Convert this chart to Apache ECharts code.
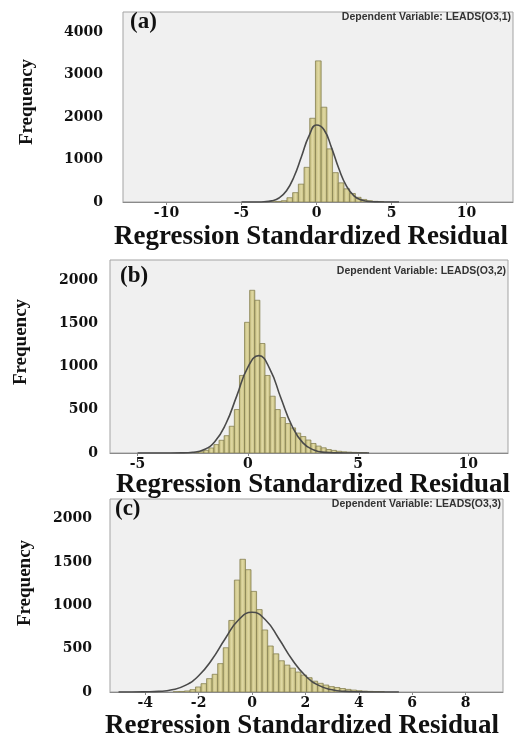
<!DOCTYPE html>
<html>
<head>
<meta charset="utf-8">
<script src="https://cdn.jsdelivr.net/npm/echarts@6/dist/echarts.min.js"></script>
<style>
  html, body { margin: 0; padding: 0; background: #fff; }
  #chart { width: 527px; height: 733px; }
</style>
</head>
<body>
<div id="chart"></div>
<script>
// histogram bins: left edge of the first bin, bin width, counts per bin
const aBinStart = -3.11
const aBinWidth = 0.38
const aFreq = [5, 12, 30, 100, 220, 420, 815, 1970, 3320, 2230, 1250, 690, 450, 310, 200, 110, 60, 30, 15, 8]

const bBinStart = -2.694
const bBinWidth = 0.2315
const bFreq = [4, 8, 15, 31, 58, 97, 147, 200, 309, 502, 896, 1510, 1880, 1765, 1265, 896, 656, 502,
  410, 340, 290, 230, 190, 150, 110, 80, 60, 40, 30, 20, 14, 10, 7, 5, 3]

const cBinStart = -2.95
const cBinWidth = 0.208
const cFreq = [3, 6, 12, 27, 58, 96, 154, 204, 327, 510, 825, 1290, 1530, 1410, 1160, 950, 715, 530,
  440, 360, 310, 275, 230, 195, 165, 125, 100, 80, 62, 52, 40, 30, 22, 15, 10, 7, 5, 3]

// fitted normal curves
const curveX = [-5, -4.5, -4, -3.5, -3, -2.5, -2, -1.5, -1, -0.5, 0, 0.5, 1, 1.5, 2, 2.5, 3, 3.5, 4, 4.5, 5, 5.5]
const aCurve = [0, 0, 1, 6, 27, 95, 265, 595, 1070, 1555, 1810, 1700, 1280, 775, 375, 145, 45, 12, 2, 0, 0, 0]
const bCurve = [0, 0, 0, 0, 1, 8, 37, 130, 335, 660, 990, 1125, 970, 635, 315, 117, 34, 7, 1, 0, 0, 0]
const cCurve = [0, 0, 2, 7, 25, 76, 187, 375, 617, 833, 920, 833, 617, 375, 187, 76, 25, 7, 2, 0, 0, 0]

// tick labels
const aXTicks = [-10, -5, 0, 5, 10]
const bXTicks = [-5, 0, 5, 10]
const cXTicks = [-4, -2, 0, 2, 4, 6, 8]
const aYTicks = [0, 1000, 2000, 3000, 4000]
const bYTicks = [0, 500, 1000, 1500, 2000]
const cYTicks = [0, 500, 1000, 1500, 2000]

const panelLabels = ['(a)', '(b)', '(c)']
const depLabels = ['Dependent Variable: LEADS(O3,1)', 'Dependent Variable: LEADS(O3,2)', 'Dependent Variable: LEADS(O3,3)']
const xTitle = 'Regression Standardized Residual'
const yTitle = 'Frequency'

const panels = [
  {
    start: aBinStart, width: aBinWidth, freq: aFreq, curve: aCurve, xTicks: aXTicks, yTicks: aYTicks,
    grid: { left: 123, top: 12, width: 390, height: 190 }, xMin: -12.9, xMax: 13.1, yMax: 4470, yMargin: 20,
    labelPos: [130, 23], titlePos: [311, 237], freqPos: [27, 102]
  },
  {
    start: bBinStart, width: bBinWidth, freq: bFreq, curve: bCurve, xTicks: bXTicks, yTicks: bYTicks,
    grid: { left: 110, top: 260, width: 398, height: 193 }, xMin: -6.25, xMax: 11.8, yMax: 2230, yMargin: 12,
    labelPos: [120, 277], titlePos: [313, 485], freqPos: [21, 342]
  },
  {
    start: cBinStart, width: cBinWidth, freq: cFreq, curve: cCurve, xTicks: cXTicks, yTicks: cYTicks,
    grid: { left: 110, top: 499, width: 393, height: 193 }, xMin: -5.32, xMax: 9.4, yMax: 2225, yMargin: 18,
    labelPos: [115, 510], titlePos: [302, 726], freqPos: [25, 583]
  }
]

const tickFont = { fontFamily: 'DejaVu Serif', fontWeight: 'bold', fontSize: 14, color: '#111' }

const barFill = new echarts.graphic.LinearGradient(0, 0, 1, 0, [
  { offset: 0, color: '#c0b776' },
  { offset: 0.5, color: '#e0d9a4' },
  { offset: 1, color: '#c0b776' }
])

function renderBar (params, api) {
  const top = api.coord([api.value(0), api.value(2)])
  const bottom = api.coord([api.value(1), 0])
  return {
    type: 'rect',
    shape: { x: top[0], y: top[1], width: bottom[0] - top[0], height: bottom[1] - top[1] },
    style: { fill: barFill, stroke: '#878153', lineWidth: 0.8 }
  }
}

const grid = []
const xAxis = []
const yAxis = []
const series = []
const graphic = []

panels.forEach((p, i) => {
  grid.push(Object.assign({
    show: true, backgroundColor: '#f0f0f0', borderColor: '#a3a3a3', borderWidth: 1
  }, p.grid))

  xAxis.push({
    type: 'value', gridIndex: i, min: p.xMin, max: p.xMax,
    axisLine: { show: true, lineStyle: { color: '#8a8a8a' } },
    axisTick: { show: true, length: 3, customValues: p.xTicks, lineStyle: { color: '#8a8a8a' } },
    axisLabel: Object.assign({ margin: 4, customValues: p.xTicks, formatter: v => String(v) }, tickFont),
    splitLine: { show: false }
  })

  yAxis.push({
    type: 'value', gridIndex: i, min: 0, max: p.yMax,
    axisLine: { show: false },
    axisTick: { show: false },
    axisLabel: Object.assign({ margin: p.yMargin, customValues: p.yTicks, formatter: v => String(v) }, tickFont),
    splitLine: { show: false }
  })

  const bins = p.freq.map((f, k) => [p.start + k * p.width, p.start + (k + 1) * p.width, f])
  series.push({
    type: 'custom', xAxisIndex: i, yAxisIndex: i,
    renderItem: renderBar,
    encode: { x: [0, 1], y: 2 },
    data: bins, clip: true, z: 2
  })

  series.push({
    type: 'line', xAxisIndex: i, yAxisIndex: i,
    data: curveX.map((x, k) => [x, p.curve[k]]),
    smooth: true, showSymbol: false, clip: true, z: 3,
    lineStyle: { color: '#4a4a4a', width: 1.6 }
  })

  graphic.push({
    type: 'text', left: p.labelPos[0], top: p.labelPos[1] - 12,
    style: { text: panelLabels[i], fontFamily: 'Liberation Serif', fontWeight: 'bold', fontSize: 23, fill: '#111' }
  })
  graphic.push({
    type: 'text', x: p.grid.left + p.grid.width - 2, y: p.labelPos[1] - 6,
    style: {
      text: depLabels[i], fontFamily: 'Liberation Sans', fontWeight: 'bold', fontSize: 10.5, fill: '#333',
      align: 'right', verticalAlign: 'middle'
    }
  })
  graphic.push({
    type: 'text', x: p.titlePos[0], y: p.titlePos[1],
    style: {
      text: xTitle, fontFamily: 'Liberation Serif', fontWeight: 'bold', fontSize: 27, fill: '#111',
      align: 'center', verticalAlign: 'middle'
    }
  })
  graphic.push({
    type: 'text', x: p.freqPos[0], y: p.freqPos[1], rotation: Math.PI / 2,
    style: {
      text: yTitle, fontFamily: 'Liberation Serif', fontWeight: 'bold', fontSize: 19, fill: '#111',
      align: 'center', verticalAlign: 'middle'
    }
  })
})

const chart = echarts.init(document.getElementById('chart'), null, { renderer: 'canvas' })
chart.setOption({
  animation: false,
  backgroundColor: '#fff',
  grid, xAxis, yAxis, series, graphic
})
</script>
</body>
</html>
